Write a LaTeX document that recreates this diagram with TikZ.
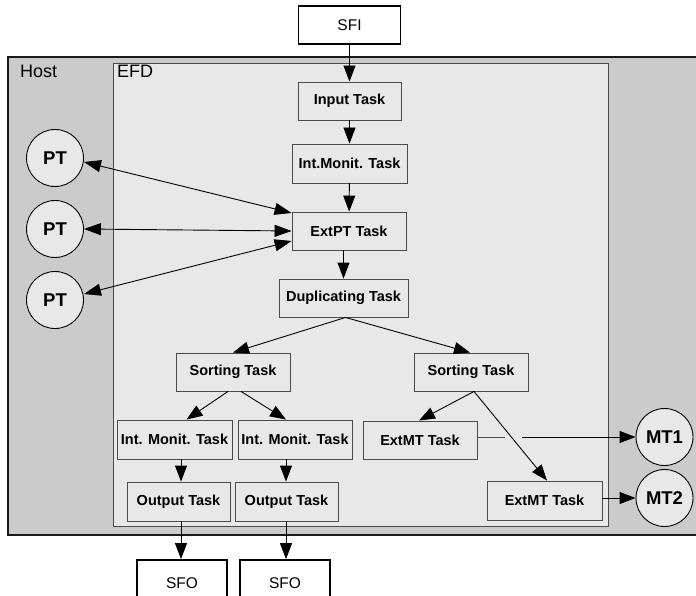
\documentclass[tikz,border=0pt]{standalone}
\usepackage{fontspec}
\setmainfont{Liberation Sans}
\usetikzlibrary{arrows.meta}
\definecolor{hostgray}{HTML}{CBCBCB}
\definecolor{efdgray}{HTML}{E8E8E8}
\definecolor{taskfill}{HTML}{E8E8E8}
\definecolor{bordergray}{HTML}{4A4A4A}
\begin{document}
\begin{tikzpicture}[x=1pt,y=-1pt,
  task/.style={draw=bordergray, line width=0.9pt, fill=taskfill, inner sep=0pt,
    font=\fontsize{14.5}{16}\selectfont\bfseries},
  stream/.style={draw=black, line width=1.8pt, fill=white, inner sep=0pt,
    font=\fontsize{15.5}{17}\selectfont},
  agent/.style={circle, draw=black, line width=0.9pt, fill=efdgray, inner sep=0pt,
    minimum size=57pt, font=\fontsize{18.5}{20}\selectfont\bfseries},
  arr/.style={draw=black, line width=0.9pt, -{Triangle[length=16pt,width=12pt]}},
  biarr/.style={draw=black, line width=0.9pt, {Triangle[length=17pt,width=12pt]}-{Triangle[length=17pt,width=12pt]}},
  lbl/.style={inner sep=0pt, anchor=base west, font=\fontsize{18}{20}\selectfont}
]
\useasboundingbox (0,0) rectangle (696,596);
% Host
\path[fill=hostgray] (8,57) rectangle (700,535);
\draw[line width=1.8pt, draw=black!90] (700,57) -- (8,57) -- (8,535) -- (700,535);
\node[lbl] (hostlbl) at (20,78) {Host};
% EFD
\draw[fill=efdgray, draw=bordergray, line width=0.9pt] (113,63) rectangle (608,526);
\node[lbl] (efdlbl) at (117,78) {EFD};

% streams
\node[stream, minimum width=102pt, minimum height=38pt] (sfi) at (349.5,25) {SFI};
\node[stream, minimum width=90pt, minimum height=46pt] (sfoL) at (182,583) {SFO};
\node[stream, minimum width=90pt, minimum height=46pt] (sfoR) at (285,583) {SFO};

% tasks
\node[task, minimum width=103pt, minimum height=38pt] (input) at (349.5,101) {Input Task};
\node[task, minimum width=115pt, minimum height=39pt] (intmon) at (349.5,163.5) {Int.Monit. Task};
\node[task, minimum width=114pt, minimum height=38pt] (extpt) at (349,231) {ExtPT Task};
\node[task, minimum width=129pt, minimum height=38pt] (dup) at (343.5,298) {Duplicating Task};
\node[task, minimum width=114pt, minimum height=38pt] (sortL) at (233,372) {Sorting Task};
\node[task, minimum width=114pt, minimum height=38pt] (sortR) at (471,372) {Sorting Task};
\node[task, minimum width=115pt, minimum height=39pt] (imL) at (174.5,439.5) {Int. Monit. Task};
\node[task, minimum width=114pt, minimum height=39pt] (imR) at (295,439.5) {Int. Monit. Task};
\node[task, minimum width=103pt, minimum height=39pt] (outL) at (178.5,501.5) {Output Task};
\node[task, minimum width=103pt, minimum height=39pt] (outR) at (286.5,501.5) {Output Task};
\node[task, minimum width=114pt, minimum height=38pt] (extmtA) at (420,440) {ExtMT Task};
\node[task, minimum width=115pt, minimum height=39pt] (extmtB) at (544.5,500.5) {ExtMT Task};

% agents
\node[agent] (pt1) at (55,158) {PT};
\node[agent] (pt2) at (55,229) {PT};
\node[agent] (pt3) at (55,300) {PT};
\node[agent] (mt1) at (664.5,437) {MT1};
\node[agent] (mt2) at (664.5,498) {MT2};

% main chain
\draw[arr] (sfi) -- (input);
\draw[arr] (input) -- (intmon);
\draw[arr] (intmon) -- (extpt);
\draw[arr] (extpt.south -| dup.north) -- (dup.north);
\draw[arr] ([xshift=2pt]dup.south) -- ([xshift=0pt]sortL.north);
\draw[arr] ([xshift=2pt]dup.south) -- ([xshift=-1pt]sortR.north);
\draw[arr] ([xshift=-5pt]sortL.south) -- ([xshift=12pt]imL.north);
\draw[arr] ([xshift=8pt]sortL.south) -- ([xshift=-9pt]imR.north);
\draw[arr] ([xshift=6.5pt]imL.south) -- ([xshift=2.5pt]outL.north);
\draw[arr] ([xshift=-9pt]imR.south) -- ([xshift=-0.5pt]outR.north);
\draw[arr] ([xshift=2.5pt]outL.south) -- ([xshift=-1pt]sfoL.north);
\draw[arr] ([xshift=-0.5pt]outR.south) -- ([xshift=1pt]sfoR.north);

% right branch
\draw[arr] ([xshift=3pt]sortR.south) -- ([xshift=-1pt]extmtA.north);
\draw[arr] ([xshift=3pt]sortR.south) -- ([xshift=2.5pt]extmtB.north);
\coordinate (gapA) at (505,437);
\coordinate (gapB) at (522,437);
\draw[draw=black!70, line width=0.9pt] (extmtA.east |- mt1.west) -- (gapA);
\draw[arr] (gapB) -- (mt1.west);
\draw[arr] (extmtB.east |- mt2.west) -- (mt2.west);

% PT links
\draw[biarr] (pt1.east) ++(0,4) coordinate (p1e) (p1e) -- ([yshift=18pt]extpt.west);
\draw[biarr] (pt2.east) -- (extpt.west);
\draw[biarr] (pt3.east) ++(0,-6) coordinate (p3e) (p3e) -- ([yshift=-10pt]extpt.west);
\end{tikzpicture}
\end{document}
